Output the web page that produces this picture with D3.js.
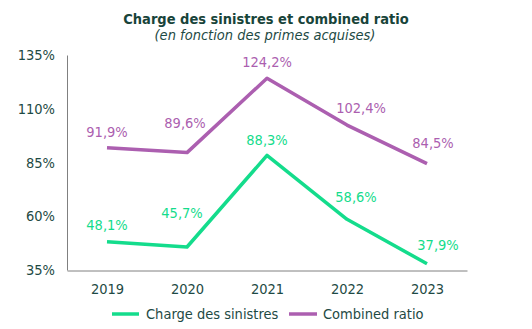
<!DOCTYPE html>
<html><head><meta charset="utf-8">
<script src="https://cdn.jsdelivr.net/npm/d3@7/dist/d3.min.js"></script>
<style>body{margin:0;background:#fff}svg{display:block}text{font-family:"DejaVu Sans Condensed","DejaVu Sans",sans-serif;font-stretch:condensed}</style>
</head><body>
<svg id="c" width="532" height="329"></svg>
<script>
const years = ["2019","2020","2021","2022","2023"];
const chargeSinistres = [48.1, 45.7, 88.3, 58.6, 37.9];
const combinedRatio = [91.9, 89.6, 124.2, 102.4, 84.5];
const yTicks = [35, 60, 85, 110, 135];
const seriesNames = ["Charge des sinistres", "Combined ratio"];
// label placement (dx, dy of label centre relative to point)
const labelOffsetsCharge = [[0,-17],[-5,-34],[0,-15],[9,-22],[11,-19]];
const labelOffsetsCombined = [[0,-16],[-2,-30],[0,-16],[14,-17],[6,-21]];

const green = "#14DC8C", purple = "#AC5FB0", textCol = "#1E4A44";
const FS = 14.5;
const svg = d3.select("#c");
const x = d3.scalePoint().domain(years).range([67, 467]).padding(0.5);
const y = d3.scaleLinear().domain([35, 135]).range([270, 55]);

svg.append("text").attr("x", 266).attr("y", 24).attr("text-anchor", "middle")
  .attr("font-size", 14.5).attr("font-weight", "bold").attr("fill", "#18443A")
  .text("Charge des sinistres et combined ratio");
svg.append("text").attr("x", 265).attr("y", 40).attr("text-anchor", "middle")
  .attr("font-size", 14.5).attr("font-style", "italic").attr("fill", textCol)
  .text("(en fonction des primes acquises)");

const fmt = v => d3.format(".1f")(v).replace(".", ",") + "%";

const yAxis = svg.append("g").attr("transform", "translate(67,0)")
  .call(d3.axisLeft(y).tickValues(yTicks).tickSize(0).tickPadding(12).tickFormat(d => d + "%"));
yAxis.select(".domain").attr("stroke", "#808080");
yAxis.selectAll("text").attr("font-size", FS).attr("fill", textCol).attr("font-family", null);

const xAxis = svg.append("g").attr("transform", "translate(0,270.5)")
  .call(d3.axisBottom(x).tickSize(0).tickPadding(13));
xAxis.select(".domain").attr("stroke", "#808080");
xAxis.selectAll("text").attr("font-size", FS).attr("fill", textCol).attr("font-family", null);

const line = d3.line().x((d, i) => x(years[i])).y(d => y(d));
[[chargeSinistres, green, labelOffsetsCharge], [combinedRatio, purple, labelOffsetsCombined]].forEach(([vals, col, offs]) => {
  svg.append("path").datum(vals).attr("d", line).attr("fill", "none")
    .attr("stroke", col).attr("stroke-width", 3.5).attr("stroke-linejoin", "round");
  svg.selectAll(null).data(vals).enter().append("text")
    .attr("x", (d, i) => x(years[i]) + offs[i][0]).attr("y", (d, i) => y(d) + offs[i][1])
    .attr("dy", "0.35em")
    .attr("text-anchor", "middle").attr("font-size", FS).attr("fill", col)
    .text(fmt);
});

const leg = [[112, 139, 146, green], [289, 317, 323, purple]];
leg.forEach(([x1, x2, tx, col], i) => {
  svg.append("line").attr("x1", x1).attr("x2", x2).attr("y1", 314).attr("y2", 314)
    .attr("stroke", col).attr("stroke-width", 3.5);
  svg.append("text").attr("x", tx).attr("y", 314).attr("dy", "0.35em").attr("font-size", FS).attr("fill", textCol)
    .text(seriesNames[i]);
});
</script>
</body></html>
